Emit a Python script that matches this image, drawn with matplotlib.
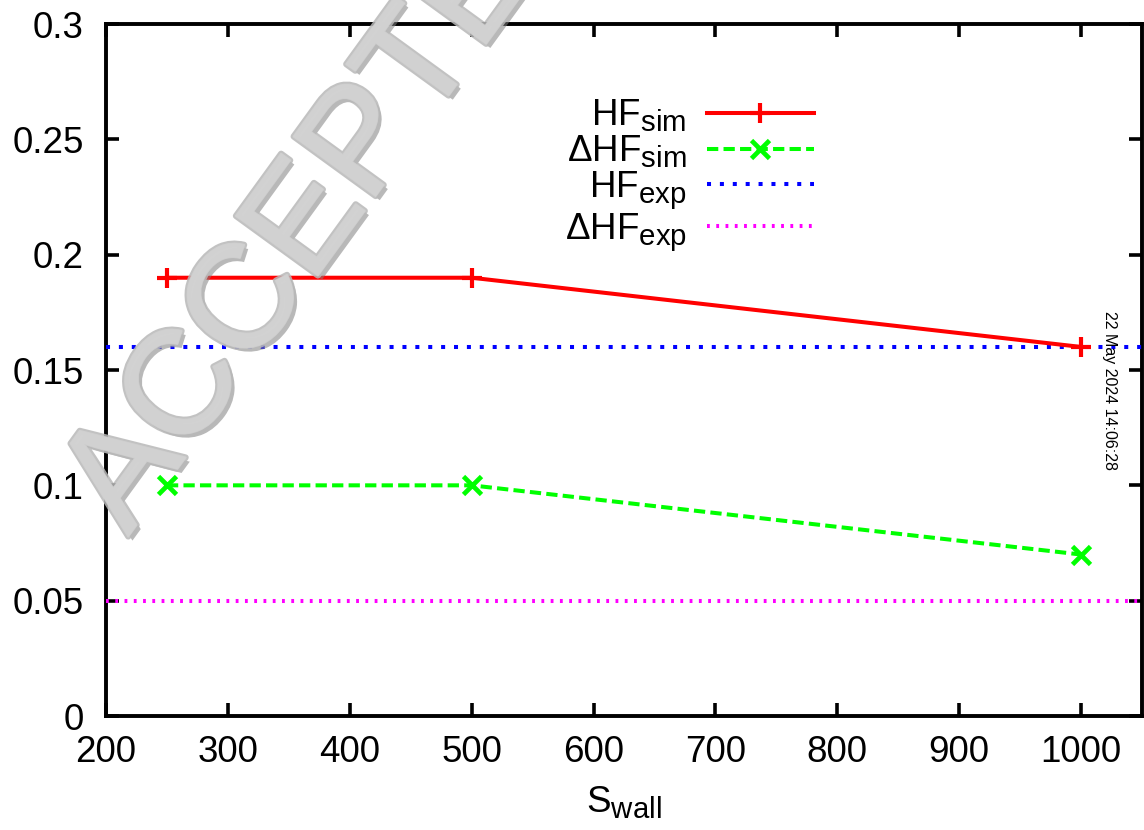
import numpy as np
import matplotlib
matplotlib.use("Agg")
import matplotlib.pyplot as plt
import matplotlib.patheffects as pe
import matplotlib._mathtext as _mt

# gnuplot-style subscripts are a bit larger than matplotlib's default
_mt.SHRINK_FACTOR = 0.8

plt.rcParams.update({
    "font.family": "Liberation Sans",
    "mathtext.fontset": "custom",
    "mathtext.rm": "Liberation Sans",
    "mathtext.it": "Liberation Sans",
    "font.size": 26.5,
})

# data
s_wall = [250, 500, 1000]
hf_sim = [0.19, 0.19, 0.16]
dhf_sim = [0.10, 0.10, 0.07]
hf_exp = 0.16
dhf_exp = 0.05

x_ticks = [200, 300, 400, 500, 600, 700, 800, 900, 1000]
y_ticks = [0, 0.05, 0.1, 0.15, 0.2, 0.25, 0.3]
y_ticklabels = ["0", "0.05", "0.1", "0.15", "0.2", "0.25", "0.3"]

fig = plt.figure(figsize=(11.44, 8.30), dpi=100)
ax = fig.add_axes([106 / 1144, 1 - 716 / 830, (1142 - 106) / 1144, (716 - 24) / 830])

ax.plot(s_wall, hf_sim, color="#ff0000", lw=2.9, marker="+", ms=15, mew=3,
        label=r"HF$_{\mathrm{sim}}$", zorder=4)
ax.plot(s_wall, dhf_sim, color="#00ff00", lw=2.9, ls=(0, (2.8, 1.3)), marker="x",
        ms=13, mew=3.4, label=r"ΔHF$_{\mathrm{sim}}$", zorder=4)
ax.axhline(hf_exp, color="#0000ff", lw=2.9, ls=(0, (1, 2.2)), label=r"HF$_{\mathrm{exp}}$", zorder=3)
ax.axhline(dhf_exp, color="#ff00ff", lw=2.9, ls=(0, (0.7, 1.6)), label=r"ΔHF$_{\mathrm{exp}}$", zorder=3)

ax.set_xlim(200, 1050)
ax.set_ylim(0, 0.3)
ax.set_xticks(x_ticks)
ax.set_yticks(y_ticks)
ax.set_yticklabels(y_ticklabels)
ax.tick_params(direction="in", length=9.5, width=2.6, top=True, right=True,
               labelsize=26.5)
ax.tick_params(axis="y", pad=16)
ax.tick_params(axis="x", pad=14)
for sp in ax.spines.values():
    sp.set_linewidth(2.8)

ax.set_xlabel(r"S$_{\mathrm{wall}}$", fontsize=26.5, labelpad=10)

leg = ax.legend(loc="upper right", bbox_to_anchor=(832 / 1144, 1 - 79 / 830),
                bbox_transform=fig.transFigure, frameon=False, markerfirst=False,
                handlelength=2.9, handletextpad=0.55, labelspacing=0.0,
                borderpad=0, fontsize=26.5)

# date stamp on the right
fig.text(1110 / 1144, 1 - 390 / 830, "22 May 2024 14:06:28", rotation=-90,
         ha="center", va="center", fontsize=11.5)

# ACCEPTED watermark
fig.text(333 / 1144, 1 - 190 / 830, "ACCEPTED", rotation=54, ha="center", va="center",
         fontsize=106, color="#d2d2d2", alpha=0.85, zorder=10,
         path_effects=[pe.withSimplePatchShadow(offset=(3, -3), shadow_rgbFace="#808080", alpha=0.55),
                       pe.withStroke(linewidth=4.5, foreground="#b8b8b8"),
                       pe.withStroke(linewidth=1.5, foreground="#d2d2d2")])

fig.savefig("out.png", dpi=100)
